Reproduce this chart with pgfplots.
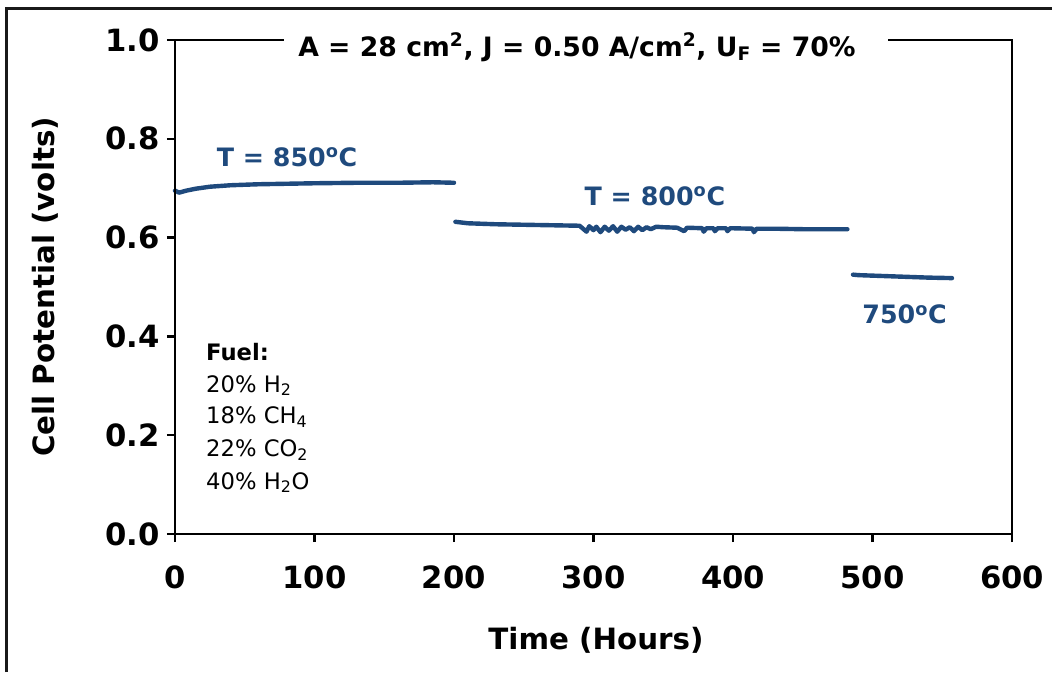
\documentclass[border=0pt]{standalone}
\usepackage{pgfplots}
\pgfplotsset{compat=1.18}
\usepackage{fontspec}
\setmainfont{DejaVu Sans}
\definecolor{serblue}{HTML}{1F4A7D}
\begin{document}
\begin{tikzpicture}
\path[use as bounding box] (0pt,0pt) rectangle (789pt,504pt);
\draw[line width=2.25pt, black!90] (4.5pt,0pt) -- (4.5pt,497.25pt) -- (789pt,497.25pt);
\begin{axis}[
  at={(131.25pt,103.5pt)}, anchor=south west,
  scale only axis, width=627.75pt, height=370.5pt,
  xmin=0, xmax=600, ymin=0, ymax=1.0,
  xtick={0,100,...,600}, ytick={0,0.2,...,1.0},
  xtick pos=left, ytick pos=left,
  tick align=outside, major tick length=6pt,
  every tick/.style={line width=1.8pt, black},
  tick label style={font=\fontsize{23}{26}\selectfont\bfseries},
  /pgf/number format/assume math mode=true,
  yticklabel style={/pgf/number format/fixed, /pgf/number format/fixed zerofill, /pgf/number format/precision=1, xshift=-2pt},
  xticklabel style={yshift=-14pt},
  clip=false,
]
\addplot[serblue, line width=3.3pt, line cap=round, line join=round] coordinates {
(0,0.695) (3,0.691) (8,0.695) (15,0.699) (25,0.703) (40,0.706) (60,0.708)
(80,0.709) (100,0.710) (130,0.711) (160,0.711) (185,0.712) (200,0.711)
};
\addplot[serblue, line width=3.3pt, line cap=round, line join=round] coordinates {
(201,0.632) (210,0.629) (230,0.627) (250,0.626) (270,0.625) (290,0.624)
(295,0.612) (297,0.623) (300,0.615) (302,0.622) (305,0.611) (308,0.622)
(311,0.614) (314,0.623) (317,0.612) (320,0.622) (323,0.616) (326,0.621)
(329,0.613) (332,0.622) (335,0.615) (338,0.621) (341,0.617) (345,0.622)
(350,0.621) (360,0.620) (365,0.613) (367,0.620) (378,0.619) (379,0.612)
(381,0.619) (386,0.619) (387,0.613) (389,0.619) (395,0.619) (396,0.613)
(398,0.619) (414,0.618) (415,0.611) (417,0.618) (430,0.618) (450,0.617)
(470,0.617) (482,0.617)
};
\addplot[serblue, line width=3.3pt, line cap=round, line join=round] coordinates {
(486,0.525) (490,0.524) (500,0.523) (520,0.521) (540,0.519) (557,0.518)
};
\node[serblue, font=\fontsize{19}{22}\selectfont\bfseries] at (axis cs:80.3,0.763) {T = 850\textsuperscript{o}C};
\node[serblue, font=\fontsize{19}{22}\selectfont\bfseries] at (axis cs:344,0.684) {T = 800\textsuperscript{o}C};
\node[serblue, font=\fontsize{19}{22}\selectfont\bfseries] at (axis cs:523,0.445) {750\textsuperscript{o}C};
\node[anchor=base west, inner sep=0pt, font=\fontsize{17}{20}\selectfont\bfseries] at (axis cs:22.2,0.352) {Fuel:};
\node[anchor=base west, inner sep=0pt, font=\fontsize{17}{20}\selectfont] at (axis cs:22.2,0.2874) {20\% H\textsubscript{2}};
\node[anchor=base west, inner sep=0pt, font=\fontsize{17}{20}\selectfont] at (axis cs:22.2,0.2227) {18\% CH\textsubscript{4}};
\node[anchor=base west, inner sep=0pt, font=\fontsize{17}{20}\selectfont] at (axis cs:22.2,0.1559) {22\% CO\textsubscript{2}};
\node[anchor=base west, inner sep=0pt, font=\fontsize{17}{20}\selectfont] at (axis cs:22.2,0.0911) {40\% H\textsubscript{2}O};
\end{axis}
\draw[line width=2.2pt, black] (131.25pt,103.5pt) rectangle (759pt,474pt);
\fill[white] (213pt,465pt) rectangle (666pt,483pt);
\node[font=\fontsize{20}{23}\selectfont\bfseries] at (432.75pt,468.75pt) {A = 28 cm\textsuperscript{2}, J = 0.50 A/cm\textsuperscript{2}, U\textsubscript{F} = 70\%};
\node[font=\fontsize{22}{25}\selectfont\bfseries] at (447pt,24pt) {Time (Hours)};
\node[font=\fontsize{22}{25}\selectfont\bfseries, rotate=90] at (33.75pt,288.75pt) {Cell Potential (volts)};
\end{tikzpicture}
\end{document}
